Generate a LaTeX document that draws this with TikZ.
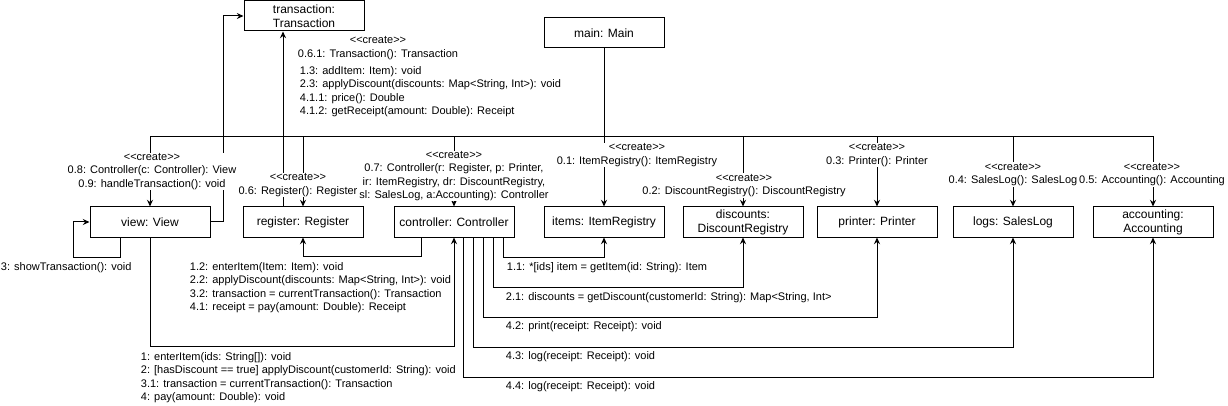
\documentclass[tikz,border=0pt]{standalone}
\usepackage{fontspec}
\setmainfont{Liberation Sans}
\usetikzlibrary{arrows.meta,calc}
\newcommand{\crt}{<{}<create>{}>}
\begin{document}
\begin{tikzpicture}[x=0.75pt,y=-0.75pt,
  obj/.style={draw,line width=0.75pt,minimum width=90pt,minimum height=22.5pt,inner sep=1pt,font=\fontsize{9}{10.5}\selectfont,align=center},
  lbl/.style={fill=white,inner sep=0.5pt,font=\fontsize{8.25}{10}\selectfont,align=center},
  lbll/.style={lbl,align=left},
  conn/.style={line width=0.75pt},
  arr/.style={conn,-{Stealth[length=5pt,width=4.5pt]}}]
\useasboundingbox (0,0) rectangle (1228,406);
% objects
\node[obj] (transaction) at (304,16) {transaction:\\Transaction};
\node[obj] (main) at (604,33) {main: Main};
\node[obj] (view) at (150,222) {view: View};
\node[obj] (register) at (303,222) {register: Register};
\node[obj] (controller) at (454,222) {controller: Controller};
\node[obj] (items) at (604,222) {items: ItemRegistry};
\node[obj] (discounts) at (743,222) {discounts:\\DiscountRegistry};
\node[obj] (printer) at (877,222) {printer: Printer};
\node[obj] (logs) at (1013,222) {logs: SalesLog};
\node[obj] (accounting) at (1153,222) {accounting:\\Accounting};
\coordinate (bus) at (604,137);
% creation edges from main
\draw[arr] (main.south) -- (items.north);
\draw[arr] (bus) -| (view.north);
\draw[arr] (bus) -| (register.north);
\draw[arr] (bus) -| (controller.north);
\draw[arr] (bus) -| (discounts.north);
\draw[arr] (bus) -| (printer.north);
\draw[arr] (bus) -| (logs.north);
\draw[arr] (bus) -| (accounting.north);
% register -> transaction
\draw[arr] ($(register.north)+(-20,0)$) coordinate (rt) -- (rt |- transaction.south);
% view -> transaction
\draw[arr] (view.east) -- ++(13,0) |- (transaction.west);
% view self call
\draw[arr] ($(view.south)+(-30,0)$) -- ++(0,20) -| ($(view.west)+(-16,0)$) -- (view.west);
% view -> controller
\draw[arr] (view.south) -- ++(0,109) -| (controller.south);
% controller -> others
\draw[arr] ($(controller.south west)+(28,0)$) -- ++(0,19) -| (register.south);
\draw[arr] ($(controller.south west)+(110,0)$) -- ++(0,20) -| (items.south);
\draw[arr] ($(controller.south west)+(100,0)$) -- ++(0,50) -| (discounts.south);
\draw[arr] ($(controller.south west)+(90,0)$) -- ++(0,80) -| (printer.south);
\draw[arr] ($(controller.south west)+(80,0)$) -- ++(0,110) -| (logs.south);
\draw[arr] ($(controller.south west)+(70,0)$) -- ++(0,140) -| (accounting.south);
% labels
\node[lbl] (l08) at (152,171.5) {\crt\\0.8: Controller(c: Controller): View\\0.9: handleTransaction(): void};
\node[lbl] (l06) at (298,185) {\crt\\0.6: Register(): Register};
\node[lbl] (l061) at (378,48) {\crt\\0.6.1: Transaction(): Transaction};
\node[lbll,anchor=west] (l13) at (299,91.5) {1.3: addItem: Item): void\\2.3: applyDiscount(discounts: Map<String, Int>): void\\4.1.1: price(): Double\\4.1.2: getReceipt(amount: Double): Receipt};
\node[lbl] (l07) at (454,176) {\crt\\0.7: Controller(r: Register, p: Printer,\\ir: ItemRegistry, dr: DiscountRegistry,\\sl: SalesLog, a:Accounting): Controller};
\node[lbl] (l01) at (637,155) {\crt\\0.1: ItemRegistry(): ItemRegistry};
\node[lbl] (l02) at (744,185.5) {\crt\\0.2: DiscountRegistry(): DiscountRegistry};
\node[lbl] (l03) at (877,155) {\crt\\0.3: Printer(): Printer};
\node[lbl] (l04) at (1013,174.5) {\crt\\0.4: SalesLog(): SalesLog};
\node[lbl] (l05) at (1152,174.5) {\crt\\0.5: Accounting(): Accounting};
\node[lbll,anchor=west] (l3) at (0,268) {3: showTransaction(): void};
\node[lbll,anchor=west] (l12) at (189,287.5) {1.2: enterItem(Item: Item): void\\2.2: applyDiscount(discounts: Map<String, Int>): void\\3.2: transaction = currentTransaction(): Transaction\\4.1: receipt = pay(amount: Double): Receipt};
\node[lbll,anchor=west] (l1) at (140,377.5) {1: enterItem(ids: String[]): void\\2: [hasDiscount == true] applyDiscount(customerId: String): void\\3.1: transaction = currentTransaction(): Transaction\\4: pay(amount: Double): void};
\node[lbll,anchor=west] (l11) at (506,268) {1.1: *[ids] item = getItem(id: String): Item};
\node[lbll,anchor=west] (l21) at (505,298) {2.1: discounts = getDiscount(customerId: String): Map<String, Int>};
\node[lbll,anchor=west] (l42) at (505,327) {4.2: print(receipt: Receipt): void};
\node[lbll,anchor=west] (l43) at (505,357) {4.3: log(receipt: Receipt): void};
\node[lbll,anchor=west] (l44) at (505,387) {4.4: log(receipt: Receipt): void};
\end{tikzpicture}
\end{document}
